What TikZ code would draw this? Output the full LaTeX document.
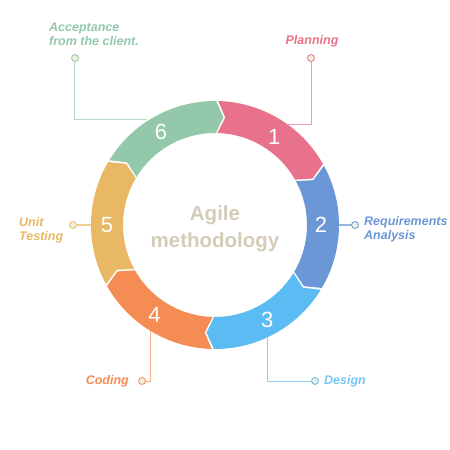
\documentclass[tikz,border=0pt]{standalone}
\usepackage{fontspec}
\setmainfont{Liberation Sans}
\usepackage{xcolor}
\usepackage{tikz}
\usetikzlibrary{calc, positioning}

\definecolor{segP}{HTML}{E8728B}
\definecolor{segB}{HTML}{6B97D6}
\definecolor{segL}{HTML}{5BBCF3}
\definecolor{segO}{HTML}{F48C53}
\definecolor{segY}{HTML}{E8B865}
\definecolor{segG}{HTML}{94C8AA}
\definecolor{dotfill}{HTML}{EEF0DC}
\definecolor{midtext}{HTML}{D3CDB8}

\begin{document}
\begin{tikzpicture}[x=1pt, y=1pt,
    num/.style={text=white, font=\fontsize{22}{24}\selectfont},
    lbl/.style={font=\fontsize{12.5}{13.6}\selectfont\bfseries\itshape, inner sep=0pt},
    dot/.style={circle, draw=#1, fill=dotfill, line width=0.8pt, inner sep=0pt, minimum size=7pt},
    link/.style={draw=#1!70!white, line width=1pt}]
    \useasboundingbox (-215,-225) rectangle (235,225);

    % 1. Vòng tròn gồm 6 mũi tên
    \fill[segP] (88.5:124) arc[start angle=88.5, end angle=29.5, radius=124]
        -- (25.5:108) -- (29.5:92) arc[start angle=29.5, end angle=88.5, radius=92]
        -- (84.5:108) -- cycle;
    \fill[segB] (28.5:124) arc[start angle=28.5, end angle=-30.5, radius=124]
        -- (-34.5:108) -- (-30.5:92) arc[start angle=-30.5, end angle=28.5, radius=92]
        -- (24.5:108) -- cycle;
    \fill[segL] (-31.5:124) arc[start angle=-31.5, end angle=-90.5, radius=124]
        -- (-94.5:108) -- (-90.5:92) arc[start angle=-90.5, end angle=-31.5, radius=92]
        -- (-35.5:108) -- cycle;
    \fill[segO] (-91.5:124) arc[start angle=-91.5, end angle=-150.5, radius=124]
        -- (-154.5:108) -- (-150.5:92) arc[start angle=-150.5, end angle=-91.5, radius=92]
        -- (-95.5:108) -- cycle;
    \fill[segY] (208.5:124) arc[start angle=208.5, end angle=149.5, radius=124]
        -- (145.5:108) -- (149.5:92) arc[start angle=149.5, end angle=208.5, radius=92]
        -- (204.5:108) -- cycle;
    \fill[segG] (148.5:124) arc[start angle=148.5, end angle=89.5, radius=124]
        -- (85.5:108) -- (89.5:92) arc[start angle=89.5, end angle=148.5, radius=92]
        -- (144.5:108) -- cycle;

    % 2. Các số thứ tự
    \node[num] (n1) at (56:106) {1};
    \node[num] (n2) at (0:106) {2};
    \node[num] (n3) at (-61:108) {3};
    \node[num] (n4) at (-124:108) {4};
    \node[num] (n5) at (180:108) {5};
    \node[num] (n6) at (120:108) {6};

    % 3. Chữ ở giữa
    \node[text=midtext, align=center, font=\fontsize{20.5}{26.7}\selectfont\bfseries] (mid) at (0,-4)
        {Agile\\methodology};

    % 4. Các điểm nối và nhãn
    \coordinate (p1) at (72,100);
    \coordinate (p2) at (124,0);
    \coordinate (p3) at (52,-113);
    \coordinate (p4) at (-64,-106);
    \coordinate (p5) at (-124,0);
    \coordinate (p6) at (-68,105);

    \node[dot=segP] (m1) at (96,167) {};
    \node[dot=segB] (m2) at (140,0) {};
    \node[dot=segL] (m3) at (100,-156) {};
    \node[dot=segO] (m4) at (-73,-156) {};
    \node[dot=segY] (m5) at (-142,0) {};
    \node[dot=segG] (m6) at (-140,167) {};

    \draw[link=segP] (p1) -| (m1.south);
    \draw[link=segB] (p2) -- (m2.west);
    \draw[link=segL] (p3) |- (m3.west);
    \draw[link=segO] (p4) |- (m4.east);
    \draw[link=segY] (p5) -- (m5.east);
    \draw[link=segG] (p6) -| (m6.south);

    \node[lbl, text=segP, anchor=base] (t1) at (97,180) {Planning};
    \node[lbl, text=segB, anchor=west, align=left] (t2) at (149,-4) {Requirements\\Analysis};
    \node[lbl, text=segL!85!white, anchor=base west] (t3) at (109,-159) {Design};
    \node[lbl, text=segO, anchor=base east] (t4) at (-86,-159) {Coding};
    \node[lbl, text=segY, anchor=west, align=left] (t5) at (-196,-5) {Unit\\Testing};
    \node[lbl, text=segG, anchor=west, align=left] (t6) at (-166,191) {Acceptance\\from the client.};
\end{tikzpicture}
\end{document}
